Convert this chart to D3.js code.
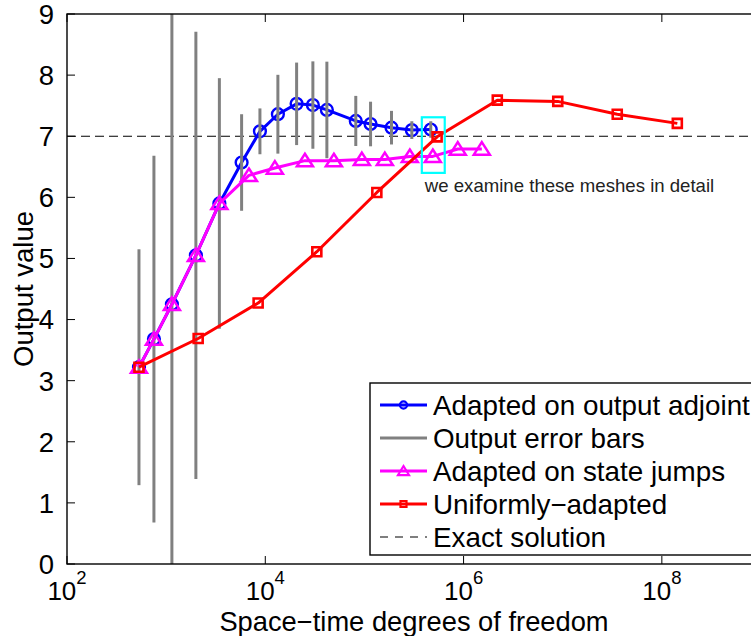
<!DOCTYPE html>
<html>
<head>
<meta charset="utf-8">
<script src="https://cdn.jsdelivr.net/npm/d3@7"></script>
<style>
  body { margin: 0; background: #fff; }
  svg { display: block; }
  text { font-family: "Liberation Sans", Arial, Helvetica, sans-serif; }
</style>
</head>
<body>
<svg id="chart" width="751" height="636"></svg>
<script>
// Output value vs. space-time degrees of freedom for three adaptation strategies

// Adapted on output adjoint (with output error estimates)
const adjointDof   = [532, 753, 1143, 1995, 3443, 5770, 8830, 13400, 20700, 30200, 41800, 81800, 115300, 187600, 300600, 466700];
const adjointValue = [3.22, 3.68, 4.25, 5.05, 5.90, 6.57, 7.08, 7.36, 7.53, 7.51, 7.43, 7.25, 7.20, 7.14, 7.10, 7.11];
const adjointError = [1.93, 3.00, 5.20, 3.66, 2.05, 0.79, 0.375, 0.645, 0.675, 0.715, 0.79, 0.41, 0.365, 0.275, 0.145, 0.135];

// Adapted on state jumps
const jumpsDof   = [532, 753, 1143, 1995, 3443, 6840, 12500, 25100, 49200, 94200, 160700, 287000, 489700, 874000, 1528000];
const jumpsValue = [3.22, 3.68, 4.25, 5.05, 5.90, 6.36, 6.48, 6.60, 6.60, 6.62, 6.62, 6.67, 6.67, 6.79, 6.79];

// Uniformly-adapted
const uniformDof   = [532, 2104, 8470, 33100, 133400, 540800, 2188000, 8913000, 35480000, 143200000];
const uniformValue = [3.22, 3.69, 4.27, 5.11, 6.08, 6.99, 7.59, 7.57, 7.36, 7.21];

// Exact output
const exactValue = 7.0;

// Highlighted meshes
const highlightDof   = [379300, 645700];
const highlightValue = [6.40, 7.31];
const highlightNote  = "we examine these meshes in detail";

// Axes
const xTickPowers = [2, 4, 6, 8];
const yTicks = [0, 1, 2, 3, 4, 5, 6, 7, 8, 9];
const xDomain = [1e2, 1e9];
const yDomain = [0, 9];
const xTitle = "Space\u2212time degrees of freedom";
const yTitle = "Output value";

const legendLabels = [
  "Adapted on output adjoint",
  "Output error bars",
  "Adapted on state jumps",
  "Uniformly\u2212adapted",
  "Exact solution"
];

const BLUE = "#0000ff", GRAY = "#808080", MAGENTA = "#ff00ff", RED = "#ff0000", CYAN = "#00ffff";

const svg = d3.select("#chart");
svg.append("rect").attr("width", 751).attr("height", 636).attr("fill", "#fff");

const plotL = 67, plotT = 14, plotR = 761, plotB = 564;
const x = d3.scaleLog().domain(xDomain).range([plotL, plotR]);
const y = d3.scaleLinear().domain(yDomain).range([plotB, plotT]);

svg.append("clipPath").attr("id", "plotclip")
  .append("rect").attr("x", plotL).attr("y", plotT).attr("width", plotR - plotL).attr("height", plotB - plotT);

const plot = svg.append("g").attr("clip-path", "url(#plotclip)");

// Exact solution
plot.append("line")
  .attr("x1", x(xDomain[0])).attr("x2", x(xDomain[1]))
  .attr("y1", y(exactValue)).attr("y2", y(exactValue))
  .attr("stroke", "#000").attr("stroke-width", 1.1).attr("stroke-dasharray", "9,5");

const line = d3.line().x(d => x(d[0])).y(d => y(d[1]));

function zipPts(xs, ys) { return xs.map((v, i) => [v, ys[i]]); }

const sym = {
  circle: r => `M${-r},0A${r},${r} 0 1,0 ${r},0A${r},${r} 0 1,0 ${-r},0Z`,
  triangle: (w, h) => `M0,${-h * 0.55}L${w / 2},${h * 0.45}L${-w / 2},${h * 0.45}Z`,
  square: s => `M${-s / 2},${-s / 2}H${s / 2}V${s / 2}H${-s / 2}Z`
};

// Adjoint-adapted series
const adjPts = zipPts(adjointDof, adjointValue);
plot.append("path").datum(adjPts).attr("d", line)
  .attr("fill", "none").attr("stroke", BLUE).attr("stroke-width", 3).attr("stroke-linejoin", "round");
plot.append("g").selectAll("path").data(adjPts).join("path")
  .attr("transform", d => `translate(${x(d[0])},${y(d[1])})`)
  .attr("d", sym.circle(5.9))
  .attr("fill", "none").attr("stroke", BLUE).attr("stroke-width", 2.4);

// Output error bars
plot.append("g").selectAll("line").data(adjPts).join("line")
  .attr("x1", d => x(d[0])).attr("x2", d => x(d[0]))
  .attr("y1", (d, i) => y(d[1] + adjointError[i]))
  .attr("y2", (d, i) => y(d[1] - adjointError[i]))
  .attr("stroke", GRAY).attr("stroke-width", 3);

// State-jump-adapted series
const jmpPts = zipPts(jumpsDof, jumpsValue);
plot.append("path").datum(jmpPts).attr("d", line)
  .attr("fill", "none").attr("stroke", MAGENTA).attr("stroke-width", 3).attr("stroke-linejoin", "round");
plot.append("g").selectAll("path").data(jmpPts).join("path")
  .attr("transform", d => `translate(${x(d[0])},${y(d[1])})`)
  .attr("d", sym.triangle(16, 12.5))
  .attr("fill", "none").attr("stroke", MAGENTA).attr("stroke-width", 2.5).attr("stroke-linejoin", "miter");

// Uniformly-adapted series
const uniPts = zipPts(uniformDof, uniformValue);
plot.append("path").datum(uniPts).attr("d", line)
  .attr("fill", "none").attr("stroke", RED).attr("stroke-width", 3).attr("stroke-linejoin", "round");
plot.append("g").selectAll("path").data(uniPts).join("path")
  .attr("transform", d => `translate(${x(d[0])},${y(d[1])})`)
  .attr("d", sym.square(9))
  .attr("fill", "none").attr("stroke", RED).attr("stroke-width", 2.6);

// Highlight box and note
plot.append("rect")
  .attr("x", x(highlightDof[0])).attr("y", y(highlightValue[1]))
  .attr("width", x(highlightDof[1]) - x(highlightDof[0]))
  .attr("height", y(highlightValue[0]) - y(highlightValue[1]))
  .attr("fill", "none").attr("stroke", CYAN).attr("stroke-width", 2.2);
svg.append("text")
  .attr("x", x(highlightDof[0]) + 3).attr("y", 192)
  .attr("font-size", 18.6).attr("fill", "#222")
  .text(highlightNote);

// Axes frame
const axes = svg.append("g");
axes.append("rect").attr("x", plotL).attr("y", plotT).attr("width", plotR - plotL).attr("height", plotB - plotT)
  .attr("fill", "none").attr("stroke", "#000").attr("stroke-width", 1.4);

const tickLen = 8;
const xTickVals = xTickPowers.map(p => Math.pow(10, p));
axes.append("g").selectAll("line").data(xTickVals).join("line")
  .attr("x1", d => x(d)).attr("x2", d => x(d))
  .attr("y1", plotB).attr("y2", plotB - tickLen)
  .attr("stroke", "#000").attr("stroke-width", 1);
axes.append("g").selectAll("line").data(xTickVals).join("line")
  .attr("x1", d => x(d)).attr("x2", d => x(d))
  .attr("y1", plotT).attr("y2", plotT + tickLen)
  .attr("stroke", "#000").attr("stroke-width", 1);
axes.append("g").selectAll("line").data(yTicks).join("line")
  .attr("x1", plotL).attr("x2", plotL + tickLen)
  .attr("y1", d => y(d)).attr("y2", d => y(d))
  .attr("stroke", "#000").attr("stroke-width", 1);

// Tick labels
const xLab = axes.append("g").selectAll("text").data(xTickPowers).join("text")
  .attr("x", p => x(Math.pow(10, p)))
  .attr("y", 600)
  .attr("text-anchor", "middle")
  .attr("font-size", 26);
xLab.append("tspan").text("10");
xLab.append("tspan").attr("dy", -16).attr("font-size", 18.5).text(p => p);

axes.append("g").selectAll("text").data(yTicks).join("text")
  .attr("x", 54).attr("y", d => y(d))
  .attr("dy", "0.36em")
  .attr("text-anchor", "end")
  .attr("font-size", 27.5)
  .text(d => d);

// Axis titles
svg.append("text")
  .attr("x", (plotL + plotR) / 2).attr("y", 631)
  .attr("text-anchor", "middle").attr("font-size", 27.3)
  .text(xTitle);
svg.append("text")
  .attr("transform", `translate(33,${(plotT + plotB) / 2}) rotate(-90)`)
  .attr("text-anchor", "middle").attr("font-size", 27.5)
  .text(yTitle);

// Legend
const lg = svg.append("g");
lg.append("rect").attr("x", 370).attr("y", 383).attr("width", 420).attr("height", 172)
  .attr("fill", "#fff").attr("stroke", "#000").attr("stroke-width", 1.4);
const rowY = i => 405 + i * 33;
const lx0 = 380, lx1 = 427, lmx = 403.5;
const legendStyles = [
  { color: BLUE, width: 3, marker: sym.circle(3.6) },
  { color: GRAY, width: 3, marker: null },
  { color: MAGENTA, width: 3, marker: sym.triangle(11, 9) },
  { color: RED, width: 3, marker: sym.square(6) },
  { color: "#000", width: 1.1, marker: null, dash: "8,7" }
];
legendLabels.forEach((label, i) => {
  const s = legendStyles[i];
  lg.append("line").attr("x1", lx0).attr("x2", lx1).attr("y1", rowY(i)).attr("y2", rowY(i))
    .attr("stroke", s.color).attr("stroke-width", s.width)
    .attr("stroke-dasharray", s.dash || null);
  if (s.marker) {
    lg.append("path").attr("d", s.marker)
      .attr("transform", `translate(${lmx},${rowY(i)})`)
      .attr("fill", "none").attr("stroke", s.color).attr("stroke-width", 2.2);
  }
  lg.append("text").attr("x", 433).attr("y", rowY(i)).attr("dy", "0.36em")
    .attr("font-size", 27.8).text(label);
});
</script>
</body>
</html>
